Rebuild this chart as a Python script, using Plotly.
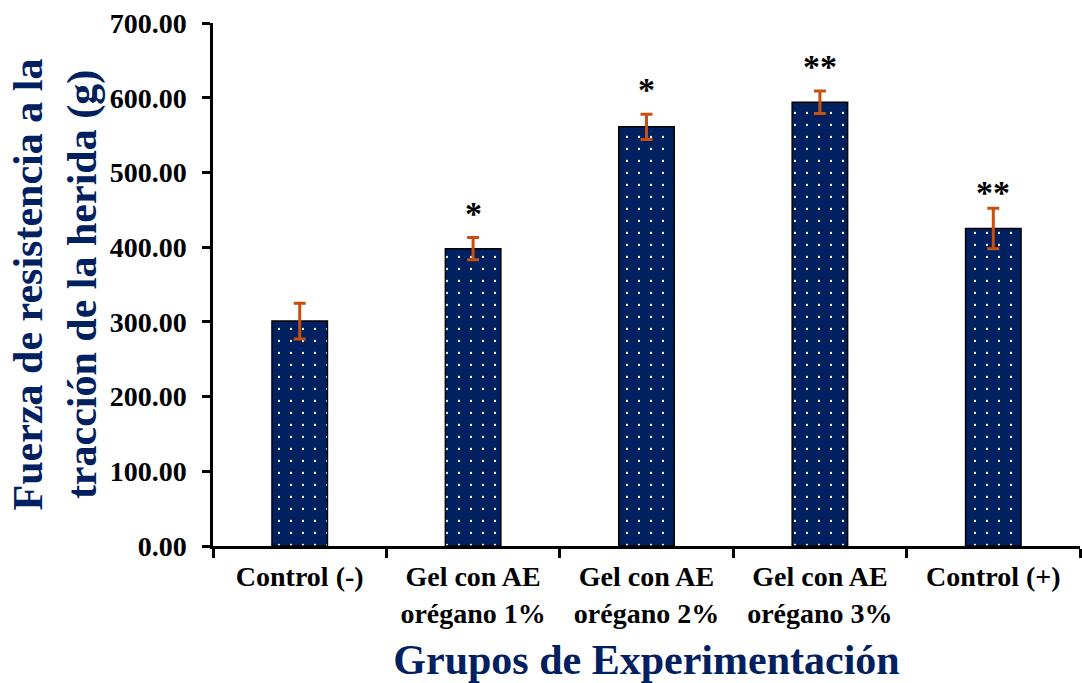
import plotly.graph_objects as go

categories = ["Control (-)", "Gel con AE<br>orégano 1%", "Gel con AE<br>orégano 2%",
              "Gel con AE<br>orégano 3%", "Control (+)"]
means = [301, 398, 561, 594, 425]
errors = [24, 15, 17, 15, 27]
signif = ["", "*", "*", "**", "**"]
signif_y = [None, 450, 617, 647, 479]
yticks = [0, 100, 200, 300, 400, 500, 600, 700]

NAVY = "#002060"
ERR = "#C5500F"
FONT = "Liberation Serif"

fig = go.Figure()
fig.add_trace(go.Bar(
    x=categories, y=means,
    marker=dict(color=NAVY, line=dict(color="black", width=1.5),
                pattern=dict(shape=".", fgcolor="white", bgcolor=NAVY,
                             size=12, solidity=0.028, fillmode="replace")),
    error_y=dict(type="data", array=errors, visible=True, color=ERR,
                 thickness=3, width=6),
    showlegend=False,
))

for c, s, sy in zip(categories, signif, signif_y):
    if s:
        fig.add_annotation(x=c, y=sy, text="<b>" + s + "</b>", showarrow=False,
                           yanchor="middle", yshift=-4,
                           font=dict(family=FONT, size=34, color="black"))

fig.update_layout(
    width=1082, height=683,
    margin=dict(l=213, r=2, t=23, b=137),
    plot_bgcolor="white", paper_bgcolor="white",
    bargap=0.68,
    font=dict(family=FONT, color="black"),
)
fig.update_xaxes(
    automargin=False,
    showline=True, linecolor="black", linewidth=2.5,
    ticks="outside", ticklen=9, tickwidth=2.5, tickcolor="black",
    tickson="boundaries",
    tickfont=dict(family=FONT, size=28, color="black", weight="bold"),
    ticklabelstandoff=4,
    title=dict(text="<b>Grupos de Experimentación</b>",
               font=dict(family=FONT, size=42, color=NAVY), standoff=20),
    range=[-0.5, 4.5],
)
fig.update_yaxes(
    automargin=False,
    range=[0, 700], tickvals=yticks, tickformat=".2f",
    showline=True, linecolor="black", linewidth=2.5,
    ticks="outside", ticklen=8, tickwidth=2.5, tickcolor="black",
    showgrid=False, zeroline=False,
    tickfont=dict(family=FONT, size=28, color="black", weight="bold"),
    ticklabelstandoff=10,
    title=dict(text="<b>Fuerza de resistencia a la<br>tracción de la herida (g)</b>",
               font=dict(family=FONT, size=42, color=NAVY), standoff=0),
)

fig.write_html("out.html", config={"displayModeBar": False},
               post_script="document.body.style.margin='0';")
